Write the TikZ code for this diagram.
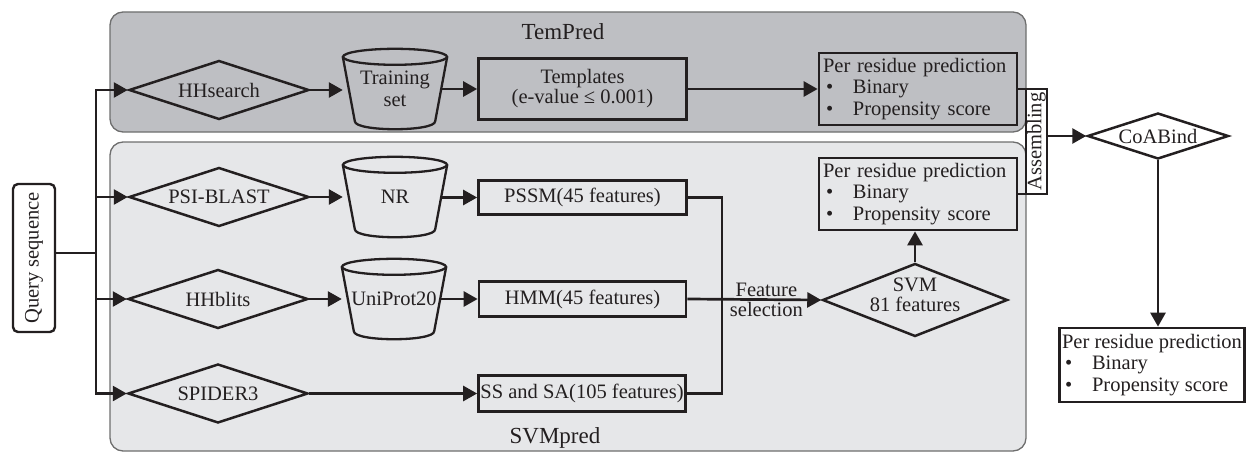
\documentclass[tikz,border=0pt]{standalone}
\usepackage{fontspec}
\usepackage{graphicx}
\setmainfont{Liberation Serif}
\usetikzlibrary{arrows.meta,shapes.geometric,calc}
\definecolor{darkpanel}{HTML}{BEBFC3}
\definecolor{lightpanel}{HTML}{E6E7E9}
\definecolor{panelborder}{HTML}{6E6E6E}
\definecolor{ink}{HTML}{231F20}
\newcommand{\mybul}{\makebox[30pt][l]{\hspace{3pt}\textbullet}}
\hyphenpenalty=10000
\begin{document}
\begin{tikzpicture}[x=1pt,y=-1pt,
  every node/.style={font=\fontsize{20.5}{21.5}\selectfont, text=ink},
  panel/.style={rounded corners=13pt, draw=panelborder, line width=1.3pt, minimum width=916pt, inner sep=0},
  title/.style={font=\fontsize{23}{25}\selectfont},
  box/.style={draw=ink, line width=2.7pt, inner sep=2pt, align=center},
  dia/.style={diamond, draw=ink, line width=2.5pt, inner sep=0pt, minimum width=180pt, minimum height=59pt, aspect=3},
  cyl/.style={minimum width=104pt, minimum height=64pt, inner sep=0, align=center},
  cylline/.style={draw=ink, line width=2.3pt},
  res/.style={draw=ink, line width=2.7pt, text width=190pt, align=left, minimum height=72pt, inner xsep=4pt, inner ysep=0pt, font=\fontsize{20.5}{21.5}\selectfont},
  arr/.style={draw=ink, line width=2.7pt, -{Triangle[length=14pt,width=15pt]}},
  con/.style={draw=ink, line width=2.7pt}]

\useasboundingbox (0,0) rectangle (1247,452);

% panels
\node[panel, fill=darkpanel, minimum height=120pt] (tp) at (568,72) {};
\node[panel, fill=lightpanel, minimum height=309pt] (sp) at (568,296.5) {};
\node[title] (tpt) at (563,32) {TemPred};
\node[title] (spt) at (555,438) {SVMpred};

% query
\node[draw=ink, line width=2.4pt, rounded corners=5pt, minimum width=42pt, minimum height=148pt, inner sep=0] (q) at (34,258) {\rotatebox{90}{Query sequence}};

% diamonds
\node[dia] (hh) at (219,90) {HHsearch};
\node[dia] (psi) at (219,197) {PSI-BLAST};
\node[dia] (hhb) at (218,299) {HHblits};
\node[dia] (spd) at (218,393.5) {SPIDER3};

% cylinders
\node[cyl] (train) at (395,89) {Training\\set};
\node[cyl] (nr) at (395,197) {NR};
\node[cyl] (uni) at (394,299) {UniProt20};
\foreach \cy in {train,nr,uni}{
  \draw[cylline] (\cy.north) ellipse [x radius=52, y radius=8];
  \draw[cylline] (\cy.north west) -- ($(\cy.south west)+(12,0)$)
    .. controls ($(\cy.south west)+(12,10.7)$) and ($(\cy.south east)+(-12,10.7)$) ..
    ($(\cy.south east)+(-12,0)$) -- (\cy.north east);
}

% boxes
\node[box, minimum width=208pt, minimum height=61pt, font=\fontsize{20.5}{20}\selectfont] (tmpl) at (582.5,89) {Templates\\(e-value ≤ 0.001)};
\node[box, minimum width=208pt, minimum height=34pt] (pssm) at (582.5,197.5) {PSSM(45 features)};
\node[box, minimum width=207pt, minimum height=35pt] (hmm) at (582.5,299) {HMM(45 features)};
\node[box, minimum width=207pt, minimum height=36pt, inner xsep=0pt] (ss) at (582,393.5) {SS and SA(105 features)};

% per residue boxes
\node[res] (per1) at (918,89) {Per residue prediction\\\mybul Binary\\\mybul Propensity score};
\node[res] (per2) at (918,194) {Per residue prediction\\\mybul Binary\\\mybul Propensity score};
\node[draw=ink, line width=2.7pt, align=left, minimum width=185pt, minimum height=74pt, inner xsep=1pt, inner ysep=0pt] (final) at (1152,365) {Per residue prediction\\\mybul Binary\\\mybul Propensity score};

% SVM and CoABind
\node[dia, minimum width=185pt, minimum height=73pt, aspect=2.5] (svm) at (915,300) {\raisebox{-5pt}{\smash{\fontsize{20.5}{20}\selectfont\begin{tabular}{@{}c@{}}SVM\\81 features\end{tabular}}}};
\node[dia, minimum width=141pt, minimum height=46pt, aspect=3.07] (coab) at (1158,136) {CoABind};

% assembling
\node[draw=ink, line width=2pt, minimum width=21pt, minimum height=105pt, inner sep=0] (asm) at (1036.5,141.5) {\rotatebox{90}{Assembling}};

% trunk
\coordinate (tTop) at (96,90);
\coordinate (tBot) at (96,393.5);
\coordinate (qj) at (96,253);
\draw[con, line cap=rect] (tTop) -- (tBot);
\draw[con] (q.east |- qj) -- (qj);
\draw[arr] (tTop) -- (hh.west);
\draw[arr] (tTop |- psi.west) -- (psi.west);
\draw[arr] (tTop |- hhb.west) -- (hhb.west);
\draw[arr] (tBot) -- (spd.west);

% rows
\draw[arr] (hh.east) -- (hh.east -| train.west);
\draw[arr] ($(train.east |- tmpl.west)+(-5,0)$) -- (tmpl.west);
\draw[arr] (tmpl.east) -- (per1.west);
\draw[arr] (psi.east) -- (psi.east -| nr.west);
\draw[arr] ($(nr.east |- pssm.west)+(-5,0)$) -- (pssm.west);
\draw[arr] (hhb.east) -- (hhb.east -| uni.west);
\draw[arr] ($(uni.east |- hmm.west)+(-5,0)$) -- (hmm.west);
\draw[arr] (spd.east) -- (ss.west);

% feature selection
\coordinate (jn) at (722,299);
\draw[con] (pssm.east) -| (jn) |- (ss.east);
\draw[arr] (hmm.east) -- (svm.west) node[pos=0.59, align=center, font=\fontsize{20.5}{20}\selectfont] (fsel) {Feature\\selection};
\draw[arr] (svm.north) -- (svm.north |- per2.south);

% assembling and output
\draw[con] (per1.east) -- (per1.east -| asm.west);
\draw[con] (per2.east) -- (per2.east -| asm.west);
\draw[arr] (asm.east |- coab.west) -- (coab.west);
\draw[arr] (coab.south) -- (coab.south |- final.north);
\end{tikzpicture}
\end{document}
